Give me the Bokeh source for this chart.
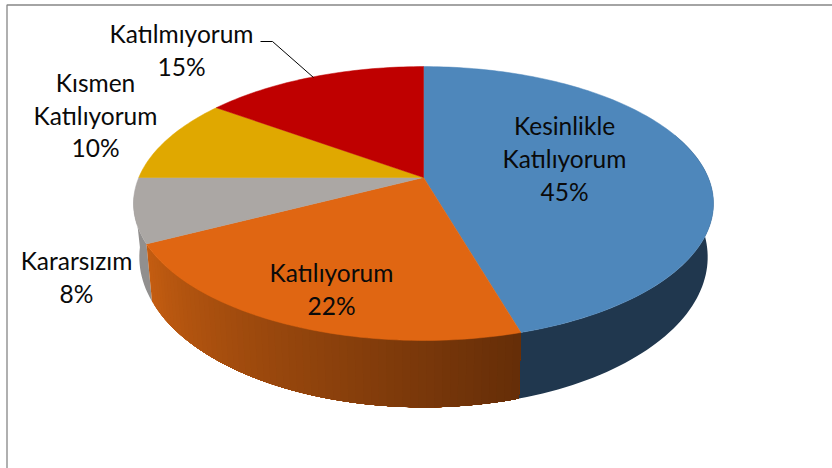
import math
from bokeh.plotting import figure
from bokeh.models import ColumnDataSource
from bokeh.core.properties import value
from bokeh.embed import file_html
from bokeh.resources import INLINE

categories = ["Kesinlikle Katılıyorum", "Katılıyorum", "Kararsızım", "Kısmen Katılıyorum", "Katılmıyorum"]
shares = [45.49, 21.91, 7.6, 10.0, 15.0]
percent_labels = ["45%", "22%", "8%", "10%", "15%"]
top_colors = ["#4E87BB", "#E06612", "#ABA7A4", "#E0A800", "#BF0000"]

# projection of the tilted disc onto the page
CX, CY, A, B, K = 423.0, 177.0, 284.7, 132.0, 0.19
LOW_SX, LOW_SY, LOW_CY = 0.98, 1.097, 228.0


def rim(theta, lower=False):
    u, v = math.sin(theta), -math.cos(theta)
    w = 1 - K * v
    dx, dy = A * u / w, B * v / w
    if lower:
        return CX + LOW_SX * dx, LOW_CY + LOW_SY * dy
    return CX + dx, CY + dy


def mix(c1, c2, t):
    return "#%02X%02X%02X" % tuple(round(a + (b - a) * t) for a, b in zip(c1, c2))


total = sum(shares)
edges = [0.0]
for s in shares:
    edges.append(edges[-1] + s / total * 2 * math.pi)

p = figure(width=832, height=468, x_range=(0, 832), y_range=(468, 0),
           x_axis_type=None, y_axis_type=None, tools="", toolbar_location=None,
           output_backend="svg", min_border=0, outline_line_color=None,
           background_fill_color="white", border_fill_color="white",
           margin=(0, 0, 0, 0))
p.grid.visible = False

# chart frame (open at the right and bottom, where the picture is cut)
p.line([6.5, 6.5, 832], [468, 4.5, 4.5], line_color="#868686", line_width=1.3)

# side wall, back to front
wx, wy, wc = [], [], []


def band(t0, t1, colour):
    steps = max(2, int(abs(t1 - t0) * 40))
    ts = [t0 + (t1 - t0) * j / steps for j in range(steps + 1)]
    up = [rim(t) for t in ts]
    lo = [rim(t, True) for t in reversed(ts)]
    wx.append([q[0] for q in up + lo])
    wy.append([q[1] for q in up + lo])
    wc.append(colour)


band(edges[2] + 0.35, edges[2], "#918F8E")
band(math.radians(70), edges[1], "#20374E")
dark, light = (0x66, 0x2E, 0x08), (0xC4, 0x5D, 0x11)
n_shades = 60
for i in range(n_shades):
    a = edges[2] + (edges[1] - edges[2]) * i / n_shades
    band(a, edges[1], mix(light, dark, i / (n_shades - 1)))
p.patches("xs", "ys", source=ColumnDataSource(dict(xs=wx, ys=wy, c=wc)),
          fill_color="c", line_color=None)

# top faces
xs, ys = [], []
for i in range(len(shares)):
    n = max(8, int(shares[i] * 3))
    pts = [rim(edges[i] + (edges[i + 1] - edges[i]) * j / n) for j in range(n + 1)]
    xs.append([CX] + [q[0] for q in pts])
    ys.append([CY] + [q[1] for q in pts])
p.patches("xs", "ys", source=ColumnDataSource(dict(xs=xs, ys=ys, c=top_colors)),
          fill_color="c", line_color="c", line_width=0.5)

# leader line for Katılmıyorum
p.line([260, 272, 313], [41, 41, 77], line_color="#000000", line_width=1)

# labels, one line each
lines = [
    (564, 125, "Kesinlikle"), (564, 158, "Katılıyorum"), (564, 191, percent_labels[0]),
    (331, 272, "Katılıyorum"), (331, 305, percent_labels[1]),
    (76, 260, "Kararsızım"), (76, 293, percent_labels[2]),
    (95, 82, "Kısmen"), (95, 115, "Katılıyorum"), (95, 147, percent_labels[3]),
    (181, 33, "Katılmıyorum"), (181, 66, percent_labels[4]),
]
p.text([l[0] for l in lines], [l[1] for l in lines], text=[l[2] for l in lines],
        text_font=value("Lato"), text_font_size="24.5px", text_color="#0A0A0A",
        text_align="center", text_baseline="middle")

open("out.html", "w").write(file_html(p, INLINE))
